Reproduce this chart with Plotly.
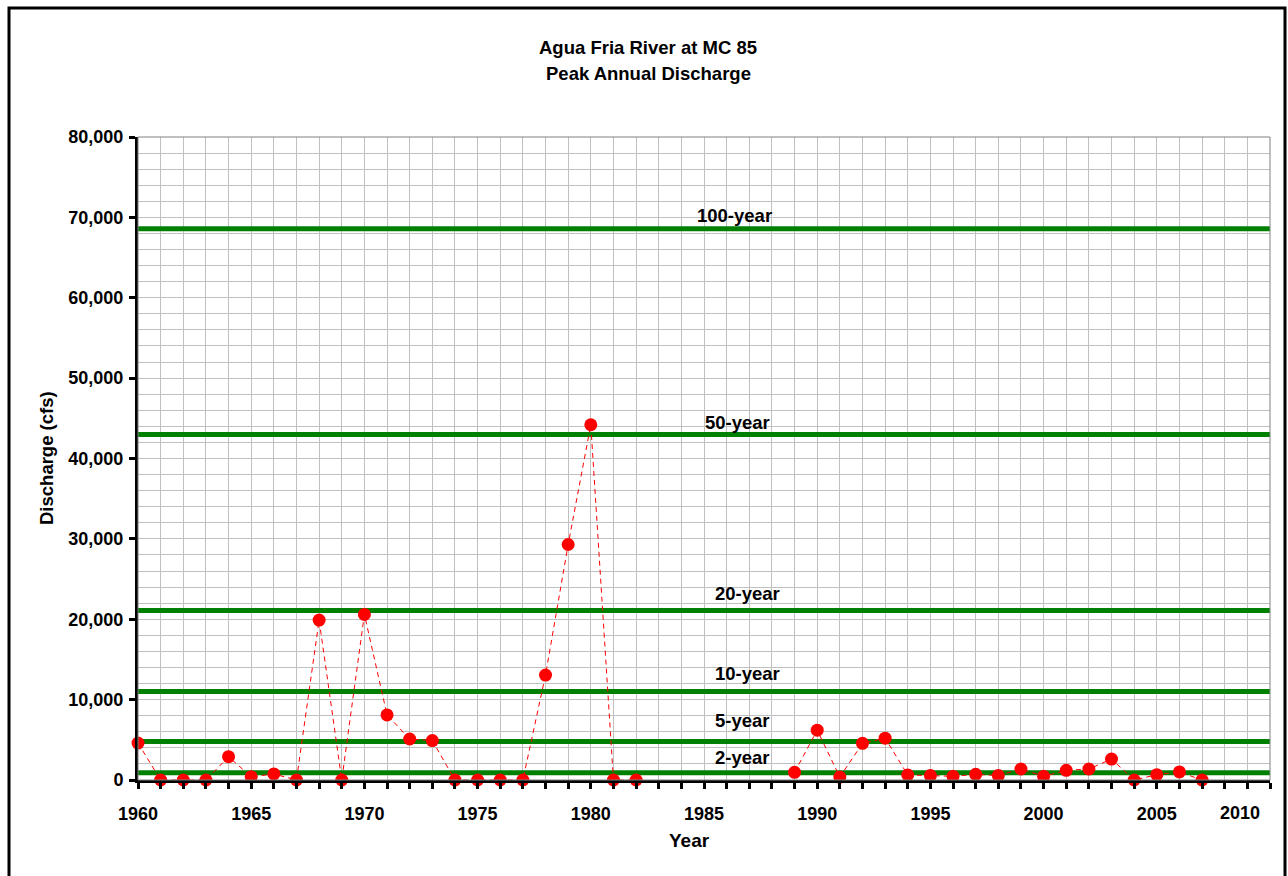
import plotly.graph_objects as go

# ---- data ----
years = list(range(1960, 2008))
peak_discharge = [
    4600, 0, 0, 0, 2900, 400, 750, 0, 19900, 0,          # 1960-1969
    20600, 8100, 5100, 4900, 0, 0, 0, 0, 13060, 29300,   # 1970-1979
    44200, 0, 0, None, None, None, None, None, None, 950,  # 1980-1989
    6200, 370, 4560, 5200, 620, 550, 460, 700, 550, 1370,  # 1990-1999
    460, 1200, 1370, 2600, 0, 660, 1000, 0                 # 2000-2007
]
return_labels = ["100-year", "50-year", "20-year", "10-year", "5-year", "2-year"]
return_values = [68600, 43000, 21100, 11000, 4800, 900]

# ---- styling / positions ----
X_RANGE = [1960, 2010]
Y_RANGE = [0, 80000]
label_x = [1986.33, 1986.5, 1986.94, 1986.94, 1986.7, 1986.7]
label_yshift = [13, 12, 17, 18, 21, 15]
FONT = "Liberation Sans, Arial, sans-serif"
W, H = 1288, 876
# plot-area edges in screen pixels
L, R, T, B = 138, 1270, 137, 780


def px_x(p):
    return (p - L) / (R - L)


def px_y(p):
    return (B - p) / (B - T)


fig = go.Figure()

# return period lines
for val in return_values:
    fig.add_trace(go.Scatter(
        x=X_RANGE, y=[val, val], mode="lines",
        line=dict(color="#008000", width=5), hoverinfo="skip",
        cliponaxis=False, showlegend=False))

# peak discharge series
fig.add_trace(go.Scatter(
    x=years, y=peak_discharge, mode="lines+markers",
    line=dict(color="#FF0000", width=1, dash="5px,4px"),
    marker=dict(color="#FF0000", size=13),
    connectgaps=False, cliponaxis=False, showlegend=False))

annotations = []
for lab, val, lx, ys in zip(return_labels, return_values, label_x, label_yshift):
    annotations.append(dict(
        x=lx, y=val, xref="x", yref="y", text=lab, showarrow=False,
        yshift=ys, yanchor="middle", xanchor="center",
        font=dict(family=FONT, size=18.5, color="black", weight="bold")))

tick_font = dict(family=FONT, size=18, color="black", weight="bold")
annotations += [
    dict(x=px_x(648), y=px_y(47), xref="paper", yref="paper",
         text="Agua Fria River at MC 85", showarrow=False,
         xanchor="center", yanchor="middle",
         font=dict(family=FONT, size=18.5, color="black", weight="bold")),
    dict(x=px_x(648), y=px_y(73), xref="paper", yref="paper",
         text="Peak Annual Discharge", showarrow=False,
         xanchor="center", yanchor="middle",
         font=dict(family=FONT, size=18.5, color="black", weight="bold")),
    dict(x=px_x(689), y=px_y(840), xref="paper", yref="paper",
         text="Year", showarrow=False, xanchor="center", yanchor="middle",
         font=dict(family=FONT, size=19, color="black", weight="bold")),
    dict(x=px_x(47), y=px_y(458), xref="paper", yref="paper",
         text="Discharge (cfs)", showarrow=False, textangle=-90,
         xanchor="center", yanchor="middle",
         font=dict(family=FONT, size=18.5, color="black", weight="bold")),
    # last x tick label is shifted inward (as in the original chart)
    dict(x=px_x(1262), y=px_y(813), xref="paper", yref="paper",
         text=str(X_RANGE[1]), showarrow=False, xanchor="right",
         yanchor="middle", font=tick_font),
]

shapes = [
    # gray plot-area frame (top / right)
    dict(type="rect", xref="paper", yref="paper", x0=0, x1=1, y0=0, y1=1,
         line=dict(color="#808080", width=1), layer="above"),
    # outer chart border
    dict(type="rect", xref="paper", yref="paper",
         x0=px_x(9), x1=px_x(1285), y0=px_y(900), y1=px_y(8),
         line=dict(color="black", width=3), layer="above"),
]

x_tickvals = list(range(X_RANGE[0], X_RANGE[1] + 1, 5))
x_ticktext = [str(v) if v != X_RANGE[1] else "" for v in x_tickvals]

grid_color = "#C0C0C0"
fig.update_layout(
    width=W, height=H,
    margin=dict(l=L, r=W - R, t=T, b=H - B, pad=0),
    paper_bgcolor="white", plot_bgcolor="white",
    showlegend=False,
    annotations=annotations,
    shapes=shapes,
    xaxis=dict(
        range=X_RANGE, tickmode="array", tickvals=x_tickvals,
        ticktext=x_ticktext, showgrid=True,
        gridcolor=grid_color, gridwidth=1,
        showline=True, linecolor="black", linewidth=3,
        ticks="outside", ticklen=6, tickwidth=3, tickcolor="black",
        ticklabelstandoff=9,
        tickfont=tick_font,
        minor=dict(dtick=1, tick0=1960, showgrid=True, gridcolor=grid_color,
                   gridwidth=1, ticks="outside", ticklen=6, tickwidth=3,
                   tickcolor="black"),
        zeroline=False, fixedrange=True,
    ),
    yaxis=dict(
        range=Y_RANGE, dtick=10000, tickformat=",d", showgrid=True,
        gridcolor=grid_color, gridwidth=1,
        showline=True, linecolor="black", linewidth=3,
        ticks="outside", ticklen=6, tickwidth=3, tickcolor="black",
        ticklabelstandoff=2, ticklabeloverflow="allow",
        tickfont=tick_font,
        minor=dict(dtick=2000, showgrid=True, gridcolor=grid_color,
                   gridwidth=1, ticks=""),
        zeroline=False, fixedrange=True,
    ),
)

page_fix = (
    "document.body.style.margin='0';"
    "document.body.style.overflow='hidden';"
    "document.documentElement.style.overflow='hidden';"
)
fig.write_html("out.html", post_script=page_fix,
               config={"displayModeBar": False, "staticPlot": True})
